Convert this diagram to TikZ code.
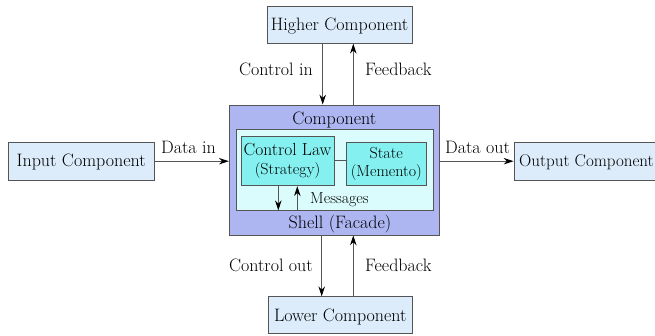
\documentclass[tikz,border=0pt]{standalone}
\usetikzlibrary{arrows.meta}
\definecolor{outbox}{HTML}{DCECFA}
\definecolor{compbox}{HTML}{AEB6F2}
\definecolor{shellbox}{HTML}{DAFCFC}
\definecolor{innerbox}{HTML}{84F0F0}
\definecolor{edge}{HTML}{555555}
\tikzset{
  extbox/.style={draw=edge, fill=outbox, line width=0.8pt, minimum width=145pt, minimum height=37pt, inner sep=0pt},
  big/.style={font=\fontsize{18}{21}\selectfont, inner sep=0pt},
  small/.style={font=\fontsize{16}{19}\selectfont, inner sep=0pt},
  arr/.style={draw=edge, line width=0.9pt, -{Stealth[length=10pt,width=6.5pt,black]}},
  link/.style={draw=edge, line width=0.9pt}
}
\begin{document}
\begin{tikzpicture}[x=1pt,y=-1pt]
\useasboundingbox (0,0) rectangle (655,335);
% boxes
\node[extbox] (higher) at (339.5,24.7) {};
\node[extbox, minimum width=146pt, minimum height=38pt] (input) at (81.2,161.2) {};
\node[extbox, minimum width=146pt, minimum height=38pt] (output) at (587,161.2) {};
\node[extbox, minimum width=144pt] (lower) at (340.3,315.3) {};
\node[draw=edge, fill=compbox, line width=0.8pt, minimum width=210pt, minimum height=130pt, inner sep=0pt] (comp) at (334.3,170) {};
\node[draw=edge, fill=shellbox, line width=0.8pt, minimum width=197.3pt, minimum height=80.7pt, inner sep=0pt] (shell) at (334.7,169.7) {};
\node[draw=edge, fill=innerbox, line width=0.8pt, minimum width=93.3pt, minimum height=49.7pt, inner sep=0pt] (ctrl) at (287.7,160.9) {};
\node[draw=edge, fill=innerbox, line width=0.8pt, minimum width=80.7pt, minimum height=43.4pt, inner sep=0pt] (state) at (386.3,164) {};
% texts
\node[big, anchor=base] (thigher) at (339.5,30.5) {Higher Component};
\node[big, anchor=base] (tinput) at (81.2,166.5) {Input Component};
\node[big, anchor=base west, font=\fontsize{17}{20}\selectfont] (toutput) at (519,166.5) {Output Component};
\node[big, anchor=base] (tlower) at (340.3,321.7) {Lower Component};
\node[big, anchor=base] (tcomp) at (334.3,124) {Component};
\node[big, anchor=base] (tshell) at (340,228.3) {Shell (Facade)};
\node[big, anchor=base, font=\fontsize{17.5}{20}\selectfont] (tctrl1) at (287.5,155) {Control Law};
\node[small, anchor=base] (tctrl2) at (287.5,174) {(Strategy)};
\node[small, anchor=base] (tstate1) at (386.3,158.3) {State};
\node[small, anchor=base] (tstate2) at (386.3,176.7) {(Memento)};
\node[small, anchor=base west] (tmsg) at (310,203.3) {Messages};
\node[big, anchor=base] (tdin) at (188.5,153.3) {Data in};
\node[big, anchor=base] (tdout) at (477.5,153.3) {Data out};
\node[big, anchor=base east] (tcin) at (313,75) {Control in};
\node[big, anchor=base west] (tfb1) at (365,75) {Feedback};
\node[big, anchor=base east] (tcout) at (313,271.7) {Control out};
\node[big, anchor=base west] (tfb2) at (365,271.7) {Feedback};
% connectors
\draw[arr] ([xshift=-11.6pt]comp.north |- higher.south) -- ([xshift=-11.6pt]comp.north);
\draw[arr] ([xshift=19pt]comp.north) -- ([xshift=19pt]comp.north |- higher.south);
\draw[arr] ([xshift=-12.6pt]comp.south) -- ([xshift=-12.6pt]comp.south |- lower.north);
\draw[arr] ([xshift=19pt]comp.south |- lower.north) -- ([xshift=19pt]comp.south);
\draw[arr] (input.east) -- (input.east -| comp.west);
\draw[arr] (output.west -| comp.east) -- (output.west);
\draw[link] (ctrl.east) -- (ctrl.east -| state.west);
\draw[arr] ([xshift=-9.4pt]ctrl.south) -- ([xshift=-9.4pt]ctrl.south |- shell.south);
\draw[arr] ([xshift=9.6pt]ctrl.south |- shell.south) -- ([xshift=9.6pt]ctrl.south);
\end{tikzpicture}
\end{document}
